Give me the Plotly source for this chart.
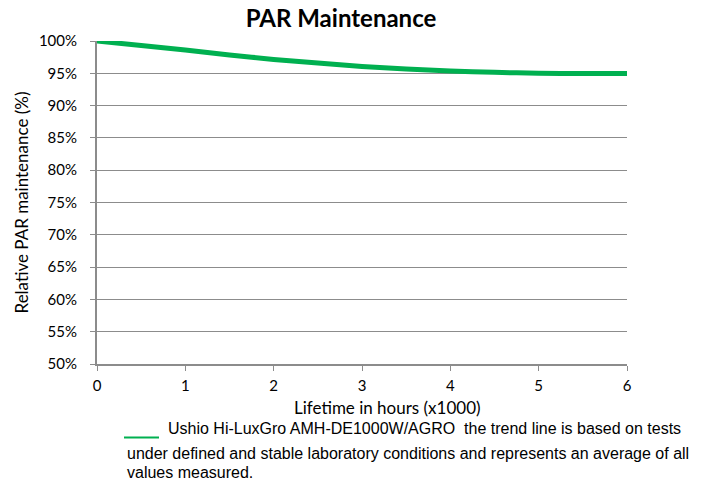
import plotly.graph_objects as go

hours = [0, 0.5, 1, 1.5, 2, 2.5, 3, 3.5, 4, 4.5, 5, 5.5, 6]
par = [100, 99.3, 98.6, 97.85, 97.15, 96.6, 96.05, 95.65, 95.35, 95.15, 95.0, 94.95, 94.95]
y_ticks = [50, 55, 60, 65, 70, 75, 80, 85, 90, 95, 100]
y_labels = [f"{v}%" for v in y_ticks]
x_ticks = [0, 1, 2, 3, 4, 5, 6]

fig = go.Figure()
fig.add_trace(go.Scatter(x=hours, y=par, mode="lines",
                         line=dict(color="#00B050", width=5, shape="spline", smoothing=0.3),
                         showlegend=False, hoverinfo="skip"))

grid = "#8c8c8c"
tickfont = dict(size=15, family="Lato, sans-serif", color="#000")
fig.update_layout(
    width=705, height=482,
    margin=dict(l=97, r=78, t=41, b=118),
    paper_bgcolor="white", plot_bgcolor="white",
    font=dict(family="Lato, sans-serif", size=15, color="#000"),
    title=dict(text="<b>PAR Maintenance</b>", x=341/705, xanchor="center", y=1 - 19/482, yanchor="middle",
               font=dict(size=24, family="Lato, sans-serif")),
    xaxis=dict(range=[0, 6], tickvals=x_ticks, showgrid=False, showline=True, linecolor=grid, linewidth=2,
               ticks="outside", ticklen=5, tickcolor=grid, tickwidth=1, zeroline=False,
               tickfont=tickfont, ticklabelstandoff=2),
    yaxis=dict(range=[50, 100], tickvals=y_ticks, ticktext=y_labels, showgrid=True, gridcolor=grid, gridwidth=1,
               showline=True, linecolor=grid, linewidth=2, ticks="outside", ticklen=5, tickcolor=grid,
               zeroline=False, tickfont=tickfont, ticklabelstandoff=10,
               title=dict(text="Relative PAR maintenance (%)", font=dict(size=17), standoff=6)),
)
fig.add_annotation(text="Lifetime in hours (x1000)", xref="paper", yref="paper", x=(387-97)/530, y=-(407-364)/323,
                   showarrow=False, xanchor="center", yanchor="middle", font=dict(size=17, family="Lato, sans-serif"))
fig.add_shape(type="line", xref="paper", yref="paper", x0=(124-97)/530, x1=(159-97)/530,
              y0=-(437.5-364)/323, y1=-(437.5-364)/323, line=dict(color="#00B050", width=2))
notes = [
    (166, 428, "Ushio Hi-LuxGro AMH-DE1000W/AGRO  the trend line is based on tests"),
    (125, 453, "under defined and stable laboratory conditions and represents an average of all"),
    (125, 473, "values measured."),
]
for x, y, t in notes:
    fig.add_annotation(text=t, xref="paper", yref="paper", x=(x-97)/530, y=-(y-364)/323, showarrow=False,
                       xanchor="left", yanchor="middle", font=dict(size=16, family="Liberation Sans, Arial"))
fig.write_html("out.html", config={"displayModeBar": False},
               post_script="document.body.style.margin='0';document.body.style.padding='0';")
